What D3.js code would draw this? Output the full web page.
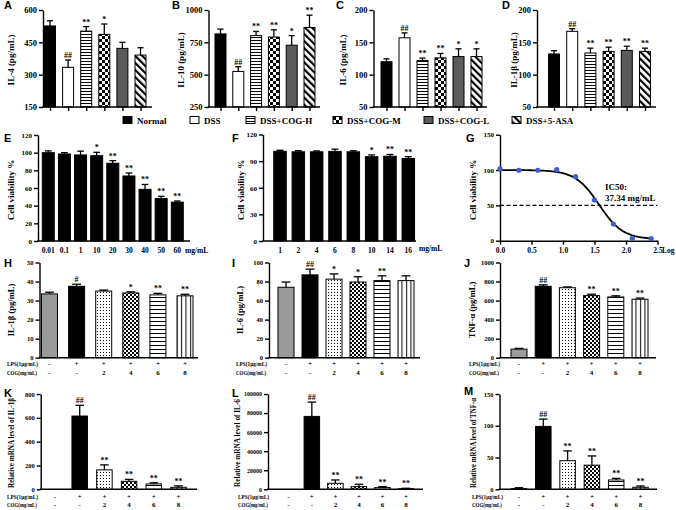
<!DOCTYPE html>
<html><head><meta charset="utf-8">
<script src="https://cdn.jsdelivr.net/npm/d3@7"></script>
<style>body{margin:0;background:#fff}svg{display:block}</style>
</head><body>
<svg id="c" width="676" height="510"></svg>
<script>
// ---------------- DATA ----------------
const dssGroups = ["Normal","DSS","DSS+COG-H","DSS+COG-M","DSS+COG-L","DSS+5-ASA"];
const il4Vals = [526, 334, 502, 487, 422, 391];
const il4Err  = [24, 34, 21, 48, 28, 34];
const il4Sig  = ["", "##", "**", "*", "", ""];
const il10Vals = [815, 525, 802, 791, 728, 865];
const il10Err  = [37, 36, 32, 56, 74, 95];
const il10Sig  = ["", "##", "**", "**", "*", "**"];
const il6Vals = [120, 157, 122, 126, 128, 128];
const il6Err  = [4.5, 7.6, 3.6, 6.8, 12, 12];
const il6Sig  = ["", "##", "**", "**", "*", "*"];
const il1bVals = [132, 167, 133.5, 136, 137.5, 136];
const il1bErr  = [5, 4, 7.5, 6.5, 6.5, 5];
const il1bSig  = ["", "##", "**", "**", "**", "**"];

const concE = ["0.01","0.1","1","10","20","30","40","50","60"];
const viabE = [100, 98.5, 97.4, 96.6, 88, 73.6, 58.5, 48, 44];
const errE  = [2, 1.5, 4.3, 3.8, 3, 3.4, 5.5, 2.6, 1.3];
const sigE  = ["", "", "", "*", "**", "**", "**", "**", "**"];

const concF = ["1","2","4","6","8","10","14","16"];
const viabF = [101, 100.5, 100.5, 101, 100.5, 95, 95.5, 93];
const errF  = [1.2, 1.3, 1, 2.5, 1.2, 2, 2, 2];
const sigF  = ["", "", "", "", "", "*", "**", "**"];

const logConcG = [0, 0.3, 0.6, 0.9, 1.2, 1.5, 1.8, 2.1, 2.4];
const viabG    = [101.5, 99.7, 99.7, 100.6, 90.7, 57.6, 23.6, 3.3, 2.9];
const fitTop = 100, fitBottom = 2, fitIC50 = 37.34, fitHill = 2.3;

const cellGroups = ["Control","LPS","LPS+COG2","LPS+COG4","LPS+COG6","LPS+COG8"];
const lpsRow = ["-","+","+","+","+","+"];
const cogRow = ["-","-","2","4","6","8"];
const hVals = [33.5, 37.5, 35, 34, 33, 32.5];
const hErr  = [0.9, 1.1, 0.5, 0.6, 0.8, 0.8];
const hSig  = ["", "#", "", "*", "**", "**"];
const iVals = [74, 87, 82.5, 79.5, 81, 81];
const iErr  = [5.5, 6, 5.5, 5.5, 5, 5];
const iSig  = ["", "##", "*", "*", "**", ""];
const jVals = [90, 750, 735, 652, 638, 614];
const jErr  = [8, 15, 8, 15, 12, 12];
const jSig  = ["", "##", "", "**", "**", "**"];
const kVals = [0, 615, 163, 67, 45, 17];
const kErr  = [0, 90, 42, 16, 10, 12];
const kSig  = ["", "##", "**", "**", "**", "**"];
const lVals = [0, 76500, 6300, 2800, 1800, 600];
const lErr  = [0, 15000, 3500, 2500, 1000, 500];
const lSig  = ["", "##", "**", "**", "**", "**"];
const mVals = [1, 99, 45, 38, 14.7, 3.2];
const mErr  = [1.5, 11.5, 15.5, 14.5, 2.5, 2];
const mSig  = ["", "##", "**", "**", "**", "**"];

// ---------------- DRAWING ----------------
const svg = d3.select("#c");
const SERIF = "'Liberation Serif','Times New Roman',serif";
const SANS = "'Liberation Sans',Arial,sans-serif";
const defs = svg.append("defs");
function pat(id, w, h, draw, transform) {
  const p = defs.append("pattern").attr("id", id).attr("patternUnits", "userSpaceOnUse")
    .attr("width", w).attr("height", h);
  if (transform) p.attr("patternTransform", transform);
  p.append("rect").attr("width", w).attr("height", h).attr("fill", "#fff");
  draw(p);
}
const sq = (p, x, y, w, h) => p.append("rect").attr("x", x).attr("y", y).attr("width", w).attr("height", h).attr("fill", "#000");
pat("hs1", 4, 3, p => sq(p, 0, 1, 4, 1));
pat("chk1", 6, 6, p => { sq(p, 0, 0, 3, 3); sq(p, 3, 3, 3, 3); });
pat("diag", 5, 5, p => sq(p, 0, 0, 2.2, 5), "rotate(-45)");
pat("dots", 3, 3, p => sq(p, 1, 1, 1, 1));
pat("chk2", 4, 4, p => { sq(p, 0, 0, 2, 2); sq(p, 2, 2, 2, 2); });
pat("hs2", 4, 4, p => sq(p, 0, 1, 4, 1));
pat("vs", 4.5, 4, p => sq(p, 1, 0, 1, 4));

const dssFills = ["#000", "#fff", "url(#hs1)", "url(#chk1)", "#5b5b5b", "url(#diag)"];
const cellFills = ["#9a9a9a", "#000", "url(#dots)", "url(#chk2)", "url(#hs2)", "url(#vs)"];

function letter(t, x, y) {
  svg.append("text").attr("x", x).attr("y", y).text(t)
    .attr("font-family", SANS).attr("font-weight", "bold").attr("font-size", 11);
}
function ylabel(t, x, cy, fs, len) {
  const el = svg.append("text").attr("transform", `translate(${x},${cy}) rotate(-90)`)
    .attr("text-anchor", "middle").attr("font-family", SERIF).attr("font-weight", "bold")
    .attr("font-size", fs || 9).text(t);
  if (len) el.attr("textLength", len).attr("lengthAdjust", "spacingAndGlyphs");
}
function styleAxis(sel, fs) {
  sel.selectAll("path,line").attr("stroke", "#000").attr("stroke-width", 1.4);
  sel.selectAll("text").attr("font-family", SERIF).attr("font-weight", "bold")
    .attr("font-size", fs || 7.5).attr("fill", "#000");
}

function barPanel(c) {
  const g = svg.append("g");
  const y = d3.scaleLinear().domain(c.domain).range([c.yBot, c.yTop]);
  const x = d3.scalePoint().domain(c.cats).range([c.x0, c.x1]);
  const base = c.domain[0];
  g.selectAll("rect.bar").data(c.values).join("rect").attr("class", "bar")
    .attr("x", (d, i) => x(c.cats[i]) - c.bw / 2).attr("width", c.bw)
    .attr("y", d => y(Math.max(d, base))).attr("height", d => c.yBot - y(Math.max(d, base)))
    .attr("fill", (d, i) => c.fills[i]).attr("stroke", "#000").attr("stroke-width", 1);
  const cap = c.bw * 0.55;
  c.values.forEach((v, i) => {
    const e = c.errs[i];
    const cx = x(c.cats[i]);
    if (e > 0) {
      g.append("line").attr("x1", cx).attr("x2", cx).attr("y1", y(v)).attr("y2", y(v + e))
        .attr("stroke", "#000").attr("stroke-width", 1.3);
      g.append("line").attr("x1", cx - cap / 2).attr("x2", cx + cap / 2).attr("y1", y(v + e)).attr("y2", y(v + e))
        .attr("stroke", "#000").attr("stroke-width", 1.3);
    }
    if (c.sig[i]) {
      g.append("text").attr("x", cx).attr("y", y(v + e) - 2).attr("text-anchor", "middle")
        .attr("font-family", SERIF).attr("font-weight", "bold").attr("font-size", 8).text(c.sig[i]);
    }
  });
  const ya = g.append("g").attr("transform", `translate(${c.axisX},0)`)
    .call(d3.axisLeft(y).tickValues(c.ticks).tickSize(4).tickSizeOuter(0).tickPadding(2).tickFormat(d3.format("d")));
  styleAxis(ya, c.tickFs);
  g.append("line").attr("x1", c.axisX - 0.7).attr("x2", c.axisEnd).attr("y1", c.yBot).attr("y2", c.yBot)
    .attr("stroke", "#000").attr("stroke-width", 1.4);
  if (c.xticks) {
    const xa = g.append("g").attr("transform", `translate(0,${c.yBot})`)
      .call(d3.axisBottom(x).tickSize(4).tickSizeOuter(0).tickFormat(""));
    xa.select(".domain").remove();
    styleAxis(xa);
  }
  if (c.xlabels) {
    c.xlabels.forEach((t, i) => g.append("text").attr("x", x(c.cats[i])).attr("y", c.xlabelY)
      .attr("text-anchor", "middle").attr("font-family", SERIF).attr("font-weight", "bold")
      .attr("font-size", 7.5).text(t));
  }
  if (c.rows) {
    c.rows.forEach((r, k) => {
      const yy = c.rowY[k];
      g.append("text").attr("x", c.rowX).attr("y", yy).text(r.name)
        .attr("font-family", SERIF).attr("font-weight", "bold").attr("font-size", 6.5)
        .attr("textLength", r.len).attr("lengthAdjust", "spacingAndGlyphs");
      r.vals.forEach((t, i) => g.append("text").attr("x", x(c.cats[i])).attr("y", yy)
        .attr("text-anchor", "middle").attr("font-family", SERIF).attr("font-weight", "bold")
        .attr("font-size", 7).text(t));
    });
  }
  return { x, y };
}

// Row 1
const r1 = { yTop: 10, yBot: 107, bw: 11, cats: dssGroups, fills: dssFills, xticks: true, tickFs: 8.5 };
letter("A", 4, 9); letter("B", 172, 9); letter("C", 336, 9); letter("D", 502, 9);
barPanel({ ...r1, axisX: 43, x0: 50, x1: 140.5, axisEnd: 152, domain: [150, 600], ticks: [150, 300, 450, 600],
  values: il4Vals, errs: il4Err, sig: il4Sig });
ylabel("IL-4 (pg/mL)", 14, 60);
barPanel({ ...r1, axisX: 208.5, x0: 220.5, x1: 309.5, axisEnd: 320, domain: [250, 1000], ticks: [250, 500, 750, 1000],
  values: il10Vals, errs: il10Err, sig: il10Sig });
ylabel("IL-10 (pg/mL)", 184, 60);
barPanel({ ...r1, axisX: 373.5, x0: 386.5, x1: 476.5, axisEnd: 487, domain: [50, 200], ticks: [50, 100, 150, 200],
  values: il6Vals, errs: il6Err, sig: il6Sig });
ylabel("IL-6 (pg/mL)", 346, 60);
barPanel({ ...r1, axisX: 537, x0: 554, x1: 645, axisEnd: 656, domain: [50, 200], ticks: [50, 100, 150, 200],
  values: il1bVals, errs: il1bErr, sig: il1bSig });
ylabel("IL-1β (pg/mL)", 517, 60);

// Legend
const legX = [123, 190, 246, 333, 424, 512];
dssGroups.forEach((gname, i) => {
  svg.append("rect").attr("x", legX[i]).attr("y", 116.5).attr("width", 9).attr("height", 7)
    .attr("fill", dssFills[i]).attr("stroke", "#000").attr("stroke-width", 1);
  svg.append("text").attr("x", legX[i] + 14).attr("y", 124).text(gname)
    .attr("font-family", SERIF).attr("font-weight", "bold").attr("font-size", 9);
});

// Row 2
letter("E", 4, 142); letter("F", 232, 142); letter("G", 466, 142);
barPanel({ axisX: 38, x0: 48.3, x1: 177.3, axisEnd: 190, yTop: 135, yBot: 241, bw: 12, cats: concE,
  fills: concE.map(() => "#000"), domain: [0, 120], ticks: [0, 20, 40, 60, 80, 100, 120],
  values: viabE, errs: errE, sig: sigE, xlabels: concE, xlabelY: 253, tickFs: 7 });
svg.append("text").attr("x", 185).attr("y", 253).text("mg/mL").attr("font-family", SERIF)
  .attr("font-weight", "bold").attr("font-size", 7.5);
ylabel("Cell viability %", 14, 190);
barPanel({ axisX: 263, x0: 280, x1: 408.3, axisEnd: 416, yTop: 134.5, yBot: 241, bw: 12.5, cats: concF,
  fills: concF.map(() => "#000"), domain: [0, 120], ticks: [0, 30, 60, 90, 120],
  values: viabF, errs: errF, sig: sigF, xlabels: concF, xlabelY: 253, tickFs: 7 });
svg.append("text").attr("x", 419).attr("y", 251).text("mg/mL").attr("font-family", SERIF)
  .attr("font-weight", "bold").attr("font-size", 7.5);
ylabel("Cell viability %", 244, 190);

// Panel G
{
  const gx = d3.scaleLinear().domain([0, 2.5]).range([500, 657.5]);
  const gy = d3.scaleLinear().domain([0, 150]).range([240.7, 134.7]);
  const g = svg.append("g");
  g.append("line").attr("x1", gx(0)).attr("x2", gx(2.5)).attr("y1", gy(50)).attr("y2", gy(50))
    .attr("stroke", "#000").attr("stroke-width", 1.2).attr("stroke-dasharray", "4,2.5");
  const logIC = Math.log10(fitIC50);
  const fit = xv => fitBottom + (fitTop - fitBottom) / (1 + Math.pow(10, (xv - logIC) * fitHill));
  const xs = d3.range(0, 2.4201, 0.02);
  g.append("path").attr("d", d3.line().x(d => gx(d)).y(d => gy(fit(d)))(xs))
    .attr("fill", "none").attr("stroke", "#000").attr("stroke-width", 1.8);
  const xa = g.append("g").attr("transform", "translate(0,240.7)")
    .call(d3.axisBottom(gx).tickValues([0, 0.5, 1, 1.5, 2, 2.5]).tickSize(4).tickSizeOuter(0).tickFormat(d3.format(".1f")));
  styleAxis(xa, 7.5);
  const ya = g.append("g").attr("transform", "translate(500,0)")
    .call(d3.axisLeft(gy).tickValues([0, 50, 100, 150]).tickSize(4).tickSizeOuter(0).tickPadding(2).tickFormat(d3.format("d")));
  styleAxis(ya, 7);
  g.selectAll("circle").data(logConcG).join("circle")
    .attr("cx", d => gx(d)).attr("cy", (d, i) => gy(viabG[i])).attr("r", 2.6).attr("fill", "#3d5fd0");
  g.append("text").attr("x", 662).attr("y", 253).text("Log").attr("font-family", SERIF)
    .attr("font-weight", "bold").attr("font-size", 7.5);
  g.append("text").attr("x", 605).attr("y", 190).text("IC50:").attr("font-family", SERIF)
    .attr("font-weight", "bold").attr("font-size", 9);
  g.append("text").attr("x", 605).attr("y", 201).text("37.34 mg/mL").attr("font-family", SERIF)
    .attr("font-weight", "bold").attr("font-size", 9);
  ylabel("Cell viability %", 476, 190);
}

// Row 3
const rowsDef = [{ name: "LPS(1μg/mL)", vals: lpsRow, len: 31 }, { name: "COG(mg/mL)", vals: cogRow, len: 30 }];
const r3 = { yTop: 262.5, yBot: 357.7, bw: 16, cats: cellGroups, fills: cellFills, rows: rowsDef, rowY: [366, 375], tickFs: 6.5 };
letter("H", 4, 267); letter("I", 232, 267); letter("J", 464, 267);
barPanel({ ...r3, axisX: 39.5, x0: 49.5, x1: 185, axisEnd: 198, domain: [0, 50], ticks: [0, 10, 20, 30, 40, 50],
  values: hVals, errs: hErr, sig: hSig, rowX: 7 });
ylabel("IL-1β (pg/mL)", 14, 310, 8.5);
barPanel({ ...r3, axisX: 269, x0: 286, x1: 406, axisEnd: 420, domain: [0, 100], ticks: [0, 20, 40, 60, 80, 100],
  values: iVals, errs: iErr, sig: iSig, rowX: 236 });
ylabel("IL-6 (pg/mL)", 243, 310, 8.5);
barPanel({ ...r3, axisX: 500, x0: 519, x1: 640, axisEnd: 656, domain: [0, 1000], ticks: [0, 200, 400, 600, 800, 1000],
  values: jVals, errs: jErr, sig: jSig, rowX: 469 });
ylabel("TNF-α (pg/mL)", 475, 310, 8.5);

// Row 4
const r4 = { yTop: 394, yBot: 489.3, bw: 15.5, cats: cellGroups, fills: cellFills, rows: rowsDef, rowY: [498.5, 507], tickFs: 6.5 };
letter("K", 4, 397); letter("L", 232, 397); letter("M", 464, 395);
barPanel({ ...r4, axisX: 40.7, x0: 55, x1: 178.5, axisEnd: 197, domain: [0, 800], ticks: [0, 200, 400, 600, 800],
  values: kVals, errs: kErr, sig: kSig, rowX: 7 });
ylabel("Relative mRNA level of IL-1β", 14, 443, 8, 90);
barPanel({ ...r4, axisX: 268, x0: 288.3, x1: 406, axisEnd: 423, domain: [0, 100000], ticks: [0, 20000, 40000, 60000, 80000, 100000],
  values: lVals, errs: lErr, sig: lSig, rowX: 238, tickFs: 6 });
ylabel("Relative mRNA level of IL-6", 240, 443, 8, 88);
barPanel({ ...r4, axisX: 499.5, x0: 519, x1: 640.5, axisEnd: 657, domain: [0, 150], ticks: [0, 50, 100, 150],
  values: mVals, errs: mErr, sig: mSig, rowX: 472 });
ylabel("Relative mRNA level of TNF-α", 476, 443, 8, 90);
</script>
</body></html>
